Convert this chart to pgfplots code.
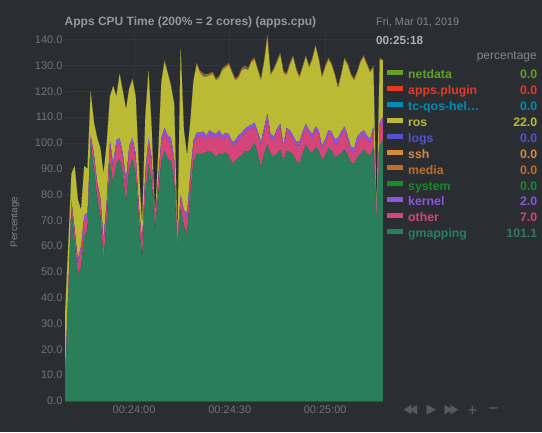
\documentclass[border=0pt]{standalone}
\usepackage{pgfplots}
\pgfplotsset{compat=1.18}
\usepackage{pgfplotstable}
\usepackage{fontspec}
\setmainfont{Liberation Sans}
\newfontfamily\dejavu{DejaVu Sans}

\definecolor{bgc}{RGB}{42,45,50}
\definecolor{gridc}{RGB}{50,54,60}
\definecolor{axisc}{RGB}{62,66,72}
\definecolor{tickc}{RGB}{112,115,120}
\definecolor{titlec}{RGB}{150,152,156}
\definecolor{datec}{RGB}{130,133,137}
\definecolor{timec}{RGB}{175,177,180}
\definecolor{iconc}{RGB}{85,90,96}

\definecolor{cgmap}{RGB}{42,126,90}
\definecolor{cother}{RGB}{212,70,122}
\definecolor{ckernel}{RGB}{140,85,220}
\definecolor{csystem}{RGB}{20,140,40}
\definecolor{cmedia}{RGB}{190,110,40}
\definecolor{cssh}{RGB}{212,140,60}
\definecolor{clogs}{RGB}{80,82,210}
\definecolor{cros}{RGB}{186,186,52}
\definecolor{ctcqos}{RGB}{0,140,180}
\definecolor{capps}{RGB}{228,58,36}
\definecolor{cnetdata}{RGB}{100,160,40}

\newcommand{\lgd}[3]{\textcolor{#1}{\makebox[93pt][l]{\hspace{3pt}#2}\makebox[39pt][r]{#3}}}

% i G(gmapping) O(other) K(kernel) R(ros) Q(tc-qos) A(apps.plugin) N(netdata)
\pgfplotstableread{
i G O K R Q A N
0 6 2 0.5 24.5 0 0 0
1 40 3 0.5 16.5 0 0 0
2 74 3 1 10 0 0 0
3 62 4 1 24 0 0 0
4 49 4 2 23 0 0 0
5 52 6 2 14 0 0 0
6 64 6 2 19 0 0 0
7 66 5 2 17 0 0 0
8 100 2 1 16.7 0 0.3 0
9 90 5 1 12 0 0 0
10 79 5 1 17 0 0 0
11 72 6 1 19 0 0 0
12 55 6 2 25 0 0 0
13 70 6 2 22 0 0 0
14 93 6 2 17 0 0 0
15 84 6 2 30 0 0 0
16 92 7 2 17 0 0 0
17 94 6 2 24.5 0 0.5 0
18 88 6 2 24 0 0 0
19 77 6 3 27 0 0 0
20 90 7 2 22 0 0 0
21 94 6 2 22.5 0 0.5 0
22 88 6 2 22 0 0 0
23 70 5 1 14 0 0 0
24 55 6 1 6 0 0 0
25 80 7 2 21 0 0 0
26 92 8 2 25.5 0 0.5 0
27 85 7 2 11 0 0 0
28 66 2 1 1 0 0 0
29 80 5 1 9 0 0 0
30 93 7 2 21.5 0 0.3 0.2
31 97 7 2 25.5 0 0.3 0.2
32 94 7 2 24 0 0 0
33 93 7 2 20 0 0 0
34 85 7 2 21 0 0 0
35 60 2 0.5 0.5 0 0 0
36 75 4 1 56.5 0 0.5 0
37 68 5 1 31 0 0 0
38 65 6 2 22 0 0 0
39 80 6 2 20 0 0 0
40 93 6 2 23 0 0 0
41 96 6 2 26.5 0 0.3 0.2
42 95.5 7 1.5 23.2 0 0.5 0.3
43 96 7 1.5 21.3 0.4 0.5 0.3
44 96.5 5 1.5 22.7 0 0.5 0.3
45 97 6 2 21.2 0 0.5 0.3
46 96 6 2 22.7 0 0.5 0.3
47 94.5 7.5 1.5 20.7 0 0.5 0.3
48 96 7 2 20.2 0 0.5 0.3
49 95.5 6 1.5 25.2 0 0.5 0.3
50 96.5 6 1.5 25.2 0 0.5 0.3
51 95 7 1.5 26.7 0 0.5 0.3
52 92 7 1.5 26.7 0 0.5 0.3
53 93 6.5 1.5 23.2 0 0.5 0.3
54 94.5 6.5 2 22.2 0 0.5 0.3
55 95 7.5 1.5 24.2 0 0.5 0.3
56 97 7 1.5 23.3 0.4 0.5 0.3
57 96.5 8.5 1.5 21.7 0 0.5 0.3
58 98 7.5 1.5 24.2 0 0.5 0.3
59 100 6 2 24.2 0 0.5 0.3
60 96 7 1.5 23.7 0 0.5 0.3
61 90.5 8.5 1.5 23.7 0 0.5 0.3
62 96 8 2 25.2 0 0.5 0.3
63 99.5 9.5 2.5 29.2 0 1.0 0.3
64 96 6 1.5 22.7 0 0.5 0.3
65 94.5 6.5 1.5 25.7 0 0.5 0.3
66 96 8 1.5 25.7 0 0.5 0.3
67 97.5 8.5 1.5 26.7 0 0.5 0.3
68 93 5 1.5 27.7 0 0.5 0.3
69 97 7.5 1.5 20.2 0 0.5 0.3
70 96.5 7 1.5 25.2 0 0.5 0.3
71 95.5 6 1.5 30.2 0 0.5 0.3
72 93 6 1.5 27.7 0 0.5 0.3
73 92 7 1.5 24.7 0 0.5 0.3
74 96 7 1.5 24.7 0 0.5 0.3
75 99.5 6.5 1.5 25.7 0 0.5 0.3
76 97 6.5 1.5 24.2 0 0.5 0.3
77 96 6 1.5 28.7 0 0.5 0.3
78 98.5 6.5 1.5 30.7 0 0.5 0.3
79 97 6.5 1.5 27.2 0 0.5 0.3
80 93.5 4 1.5 26.2 0 0.5 0.3
81 95 5 1.5 27.7 0 0.5 0.3
82 98 5.5 1.5 27.2 0 0.5 0.3
83 97 6 1.5 25.7 0 0.5 0.3
84 94.5 5 2 24.7 0 0.5 0.3
85 95 5 2 19.2 0 0.5 0.3
86 96 7 1.5 21.7 0 0.5 0.3
87 97.5 7.5 1.5 25.7 0 0.5 0.3
88 95.5 5.5 2 27.2 0 0.5 0.3
89 92.5 4 2 27.7 0 0.5 0.3
90 92 4 2 26.2 0 0.5 0.3
91 94.5 5.5 2.5 24.7 0 0.5 0.3
92 96 6 2 27.2 0 0.5 0.3
93 97.5 5.5 2 28.2 0 0.5 0.3
94 96 5 2 27.2 0 0.5 0.3
95 95 5 1.5 25.7 0 0.5 0.3
96 98.5 6.5 1.5 22.7 0 0.5 0.3
97 70 2 1 0 0 0 0
98 99 7 2 24.2 0 0.5 0.3
99 101.1 7 2 22 0 0 0
}\appsdata

\begin{document}
\begin{tikzpicture}
\useasboundingbox (0,0) rectangle (542pt,432pt);
\fill[bgc] (0,0) rectangle (542pt,432pt);
\begin{axis}[
  at={(65pt,31pt)}, anchor=south west,
  scale only axis, width=318pt, height=369pt,
  xmin=0, xmax=99, ymin=0, ymax=143,
  stack plots=y,
  axis x line*=bottom, axis y line*=left,
  x axis line style={draw=axisc, line width=1.2pt, -},
  y axis line style={draw=none},
  xtick={21.5,51.3,81}, xticklabels={00:24:00,00:24:30,00:25:00},
  ytick={0,10,...,140},
  major tick length=0pt,
  xmajorgrids, ymajorgrids,
  major grid style={draw=gridc, line width=0.6pt},
  tick label style={font=\fontsize{11}{12}\selectfont, text=tickc},
  xticklabel style={yshift=-1pt},
  yticklabel style={xshift=1pt},
  /pgf/number format/assume math mode=true,
  yticklabel style={/pgf/number format/fixed, /pgf/number format/fixed zerofill, /pgf/number format/precision=1},
  ylabel={Percentage},
  ylabel style={at={(axis description cs:-0.157,0.485)}, anchor=center, font=\fontsize{9.8}{11}\selectfont, text=datec},
  reverse legend,
  legend cell align=left,
  legend image code/.code={\fill[#1] (0pt,0.7pt) rectangle (16pt,5.7pt);},
  legend style={at={(axis description cs:1.0126,0.9036)}, anchor=north west, draw=none, fill=none,
    font=\fontsize{12.3}{14}\selectfont\bfseries, row sep=0pt, inner sep=0pt,
    nodes={inner xsep=2pt, inner ysep=1.45pt, text height=9.5pt, text depth=3.5pt}},
  every axis plot/.append style={draw=none},
]
\addplot[fill=cgmap, draw=none] table[x=i, y=G] {\appsdata} \closedcycle;
\addlegendentry{\lgd{cgmap}{gmapping}{101.1}}
\addplot[fill=cother, draw=none] table[x=i, y=O] {\appsdata} \closedcycle;
\addlegendentry{\lgd{cother}{other}{7.0}}
\addplot[fill=ckernel, draw=none] table[x=i, y=K] {\appsdata} \closedcycle;
\addlegendentry{\lgd{ckernel}{kernel}{2.0}}
\addlegendimage{fill=csystem, draw=none}
\addlegendentry{\lgd{csystem}{system}{0.0}}
\addlegendimage{fill=cmedia, draw=none}
\addlegendentry{\lgd{cmedia}{media}{0.0}}
\addlegendimage{fill=cssh, draw=none}
\addlegendentry{\lgd{cssh}{ssh}{0.0}}
\addlegendimage{fill=clogs, draw=none}
\addlegendentry{\lgd{clogs}{logs}{0.0}}
\addplot[fill=cros, draw=none] table[x=i, y=R] {\appsdata} \closedcycle;
\addlegendentry{\lgd{cros}{ros}{22.0}}
\addplot[fill=ctcqos, draw=none] table[x=i, y=Q] {\appsdata} \closedcycle;
\addlegendentry{\lgd{ctcqos}{tc-qos-hel\dots}{0.0}}
\addplot[fill=capps, draw=none] table[x=i, y=A] {\appsdata} \closedcycle;
\addlegendentry{\lgd{capps}{apps.plugin}{0.0}}
\addplot[fill=cnetdata, draw=none] table[x=i, y=N] {\appsdata} \closedcycle;
\addlegendentry{\lgd{cnetdata}{netdata}{0.0}}
\end{axis}
\node[anchor=west, font=\fontsize{12}{14}\selectfont\bfseries, text=titlec, inner sep=0pt] at (64.5pt,410pt) {Apps CPU Time (200\% = 2 cores) (apps.cpu)};
\node[anchor=west, font=\fontsize{10.9}{12}\selectfont, text=datec, inner sep=0pt] at (376pt,410pt) {Fri, Mar 01, 2019};
\node[anchor=west, font=\fontsize{11.7}{13}\selectfont\bfseries, text=timec, inner sep=0pt] at (376pt,392pt) {00:25:18};
\node[anchor=east, font=\fontsize{12}{13}\selectfont, text=datec, inner sep=0pt] at (537pt,375pt) {percentage};
\begin{scope}[every node/.style={font=\dejavu\fontsize{13}{14}\selectfont, text=iconc, inner sep=0pt, anchor=center}]
\node at (410.5pt,22pt) {\scalebox{0.8}[1]{◀\kern-3pt◀}};
\node at (431.5pt,22pt) {▶};
\node at (451.5pt,22pt) {\scalebox{0.8}[1]{▶\kern-3pt▶}};
\node at (472.5pt,22pt) {\textbf{+}};
\node at (493.5pt,22pt) {\textbf{−}};
\end{scope}
\end{tikzpicture}
\end{document}
